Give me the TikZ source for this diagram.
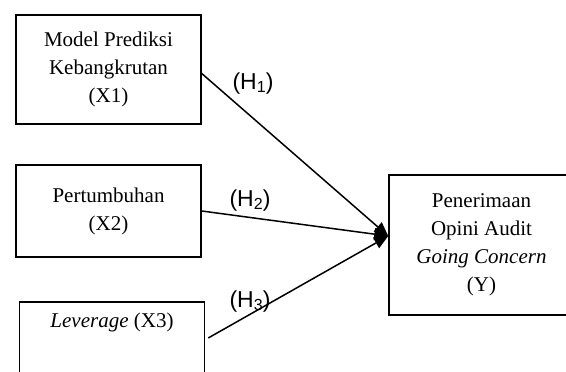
\documentclass[tikz,border=0pt]{standalone}
\usepackage{fontspec}
\setmainfont{Liberation Serif}
\newfontfamily\hfont{Liberation Sans}
\usetikzlibrary{arrows.meta, positioning}
\newcommand{\hyp}[1]{(H\raisebox{-3pt}{\fontsize{16}{16}\selectfont #1})}
\tikzset{
  arrowK/.style={-{Triangle[length=14pt, width=12pt]}, black, line width=1.5pt},
  boxK/.style={rectangle, draw=black, line width=1.5pt, align=center,
               font=\fontsize{21}{28}\selectfont, inner sep=0pt,
               minimum width=185pt},
  hypLab/.style={font=\hfont\fontsize{23}{27}\selectfont, inner sep=0pt},
}

\begin{document}
\begin{tikzpicture}[x=1pt, y=-1pt]
    \clip (0,0) rectangle (566,372);
    \node[boxK, minimum height=109pt] (x1) at (108.5,69.5)
      {Model Prediksi\\Kebangkrutan\\(X1)};
    \node[boxK, minimum height=92pt] (x2) at (108.5,211)
      {Pertumbuhan\\(X2)};
    \node[boxK, minimum height=92pt] (x3) at (112,348)
      {\textit{Leverage} (X3)\\\mbox{}\\\mbox{}};
    \node[boxK, minimum height=140pt] (y) at (481.5,245)
      {Penerimaan\\Opini Audit\\\textit{Going Concern}\\(Y)};
    \coordinate (tip) at ([yshift=9pt]y.west);
    \draw[arrowK] ([yshift=-4pt]x1.east) -- (tip);
    \draw[arrowK] (x2.east) -- (tip);
    \draw[arrowK] ([xshift=3pt, yshift=10pt]x3.east) -- (tip);
    \node[hypLab] (h1) at (253,84) {\hyp{1}};
    \node[hypLab] (h2) at (250,201) {\hyp{2}};
    \node[hypLab] (h3) at (250,302) {\hyp{3}};
  \end{tikzpicture}
\end{document}
